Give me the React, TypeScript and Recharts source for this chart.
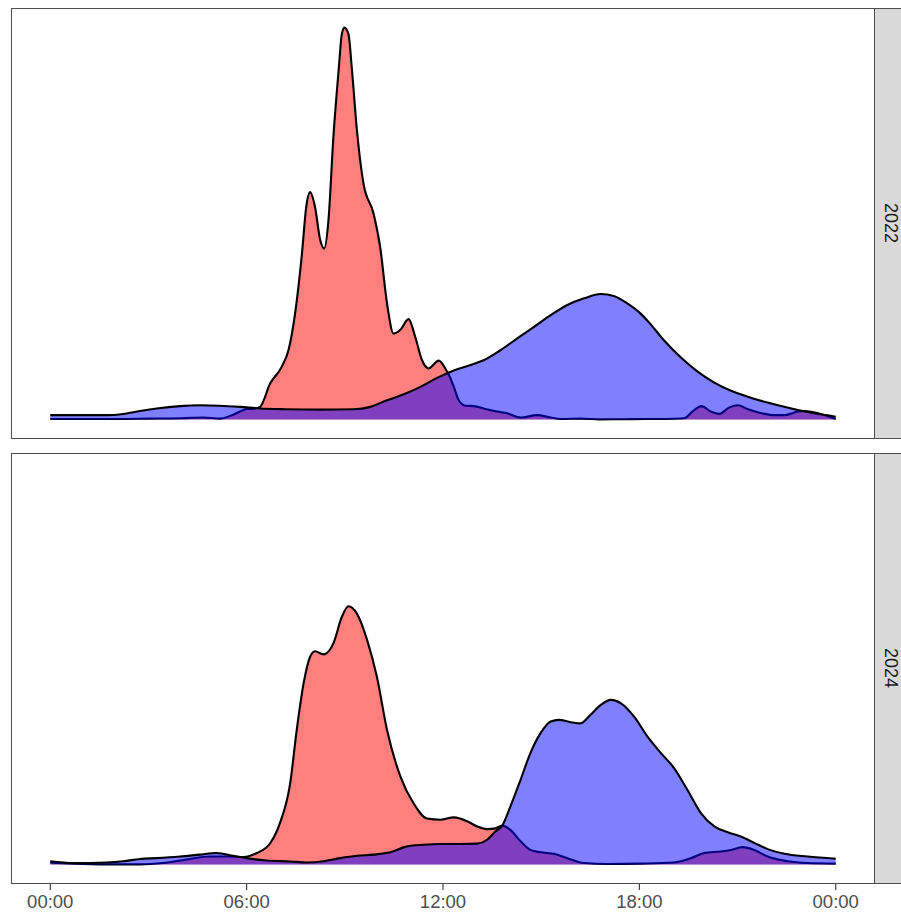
import React from 'react';
import { AreaChart, Area, XAxis, YAxis } from 'recharts';

type Pt = [number, number];

// Density of start times, [hour of day, density (peak of 2022 = 100)]
const start2022: Pt[] = [
  [0, 0.1], [1, 0.1], [2, 0.1], [3, 0.2], [4, 0.3], [4.67, 0.5], [5.2, 0.2], [5.5, 0.9],
  [5.8, 2.0], [6.0, 2.65], [6.2, 2.7], [6.41, 3.2], [6.72, 9.2], [7.07, 13.4], [7.28, 17.7],
  [7.48, 27], [7.69, 42.3], [7.82, 54.2], [7.94, 58], [8.09, 54.2], [8.25, 45.7], [8.37, 43.6],
  [8.5, 50.8], [8.65, 72], [8.81, 89], [8.91, 98.4], [8.99, 100], [9.11, 98.4], [9.22, 89],
  [9.37, 73.8], [9.57, 60.2], [9.88, 52.5], [10.08, 44], [10.29, 29.6], [10.49, 21.9],
  [10.69, 22.8], [10.95, 25.6], [11.15, 21.1], [11.36, 15.1], [11.56, 13], [11.87, 15],
  [12.07, 13], [12.2, 11.0], [12.33, 8.3], [12.48, 4.9], [12.69, 3.5], [12.94, 3.4],
  [13.24, 2.8], [13.65, 2.0], [13.96, 1.55], [14.37, 0.45], [14.88, 1.1], [15.29, 0.5],
  [15.6, 0.1], [16.2, 0.2], [16.8, 0], [17.5, 0.05], [18.2, 0.1], [18.75, 0.1], [19.37, 0.3],
  [19.62, 2.0], [19.9, 3.4], [20.18, 2.0], [20.44, 1.4], [20.74, 3.0], [21.02, 3.6],
  [21.3, 2.65], [21.67, 1.7], [22.13, 1.1], [22.44, 1.1], [22.85, 2.0], [23.05, 2.15],
  [23.46, 1.55], [24, 0.1],
];

// Density of end times, 2022
const end2022: Pt[] = [
  [0, 1.1], [0.7, 1.1], [1.72, 1.1], [2.23, 1.4], [2.74, 2.15], [3.25, 2.8], [3.96, 3.4],
  [4.57, 3.6], [5.18, 3.5], [5.8, 3.2], [6.41, 2.8], [7.2, 2.6], [8.25, 2.5], [9.27, 2.6],
  [9.78, 3.2], [10.29, 4.9], [10.8, 6.4], [11.31, 8.3], [11.82, 10.6], [12.33, 12.5],
  [12.84, 13.9], [13.24, 15.1], [13.76, 17.7], [14.27, 20.7], [14.78, 23.6], [15.29, 26.6],
  [15.8, 29.2], [16.31, 30.9], [16.82, 32], [17.22, 31.5], [17.63, 29.6], [18.04, 27],
  [18.3, 24.7], [18.75, 20.2], [19.27, 15.8], [19.78, 12.2], [20.29, 9.4], [20.8, 7.3],
  [21.31, 5.8], [21.82, 4.5], [22.33, 3.4], [22.84, 2.4], [23.35, 1.55], [24, 0.7],
];

// Density of start times, 2024
const start2024: Pt[] = [
  [0, 0.5], [0.7, 0.2], [1.72, 0], [2.74, 0], [3.45, 0.35], [4.27, 1.4], [4.88, 2.0],
  [5.49, 2.0], [5.9, 1.9], [6.31, 2.9], [6.72, 5.4], [7.02, 10.6], [7.33, 20.7], [7.53, 34.3],
  [7.74, 46.2], [7.94, 53], [8.09, 54.4], [8.35, 53.6], [8.65, 56.4], [8.91, 63.2],
  [9.11, 65.9], [9.37, 64], [9.68, 57.3], [9.98, 47.9], [10.29, 34.3], [10.7, 22.4],
  [11.1, 15.6], [11.51, 11.7], [11.92, 11.4], [12.33, 12.0], [12.74, 11], [13.04, 9.7],
  [13.35, 9.0], [13.6, 9.2], [13.81, 9.9], [14.06, 8.8], [14.37, 5.9], [14.67, 3.7],
  [14.98, 3.1], [15.39, 2.7], [15.8, 1.6], [16.31, 0.35], [17.02, 0.1], [18.04, 0.2],
  [19.06, 0.5], [19.57, 1.6], [19.98, 2.9], [20.49, 3.3], [20.8, 3.7], [21.15, 4.4],
  [21.51, 3.7], [21.92, 2.0], [22.53, 0.8], [23.14, 0.35], [24, 0.2],
];

// Density of end times, 2024
const end2024: Pt[] = [
  [0, 0.8], [0.7, 0.35], [1.72, 0.5], [2.23, 0.8], [2.74, 1.4], [3.25, 1.6], [3.96, 2.0],
  [4.57, 2.5], [5.08, 2.9], [5.59, 2.2], [6.0, 1.6], [6.61, 1.0], [7.33, 0.75], [7.84, 0.5],
  [8.35, 0.8], [8.86, 1.6], [9.37, 2.2], [9.88, 2.5], [10.39, 3.1], [10.9, 4.6], [11.41, 5.0],
  [11.92, 5.2], [12.53, 5.2], [13.04, 5.3], [13.35, 6.3], [13.6, 8.4], [13.81, 9.9],
  [14.06, 14.8], [14.37, 21.6], [14.67, 28.4], [14.98, 33.5], [15.29, 36.5], [15.54, 36.9],
  [15.9, 36.3], [16.2, 36], [16.51, 38.2], [16.82, 40.7], [17.13, 42], [17.44, 41.1],
  [17.84, 37.7], [18.25, 32.6], [18.66, 28.4], [19.06, 24.6], [19.47, 19], [19.88, 13.1],
  [20.29, 9.7], [20.7, 8.2], [21.1, 7.1], [21.51, 5.5], [21.92, 3.9], [22.43, 2.7],
  [23.14, 2.0], [24, 1.45],
];

const years = ['2022', '2024'];
const hourTicks = [0, 6, 12, 18, 24];
const hourTickLabels = ['00:00', '06:00', '12:00', '18:00', '00:00'];

const FONT = '"Liberation Sans", Arial, Helvetica, sans-serif';
const PAGE_W = 901;
const PANEL_LEFT = 11;
const PANEL_W = 864;
const PANEL_H = 431;
const AXIS_H = 30;
const PANEL_TOPS = [8, 453];
const BORDER = '#4d4d4d';
const STRIP_TEXT_SIZE = 18;

const toRows = (pts: Pt[]) => pts.map(([hour, density]) => ({ hour, density }));

interface PanelProps {
  year: string;
  start: Pt[];
  end: Pt[];
  top: number;
  showAxis: boolean;
}

function Panel({ year, start, end, top, showAxis }: PanelProps) {
  const chartH = PANEL_H + (showAxis ? AXIS_H : 0);
  const stripLeft = PANEL_LEFT + PANEL_W - 1;
  return (
    <>
      <div style={{ position: 'absolute', left: PANEL_LEFT, top, width: PANEL_W, height: chartH }}>
        <AreaChart width={PANEL_W} height={chartH} margin={{ top: 0, right: 0, bottom: 0, left: 0 }}>
          <XAxis
            type="number"
            dataKey="hour"
            domain={[-1.2, 25.2]}
            allowDataOverflow
            hide={!showAxis}
            ticks={hourTicks}
            interval={0}
            tickFormatter={(v: number) => hourTickLabels[hourTicks.indexOf(v)]}
            axisLine={false}
            tickLine={{ stroke: '#333333', strokeWidth: 1.1 }}
            tickSize={6}
            tickMargin={5}
            height={AXIS_H}
            tick={{ fill: '#4D4D4D', fontSize: 18.5, fontFamily: FONT }}
          />
          <YAxis type="number" domain={[-5, 105]} allowDataOverflow hide />
          <Area
            data={toRows(start)}
            dataKey="density"
            type="monotone"
            baseValue={0}
            fill="#FF0000"
            fillOpacity={0.5}
            stroke="#000000"
            strokeWidth={2.1}
            dot={false}
            activeDot={false}
            isAnimationActive={false}
          />
          <Area
            data={toRows(end)}
            dataKey="density"
            type="monotone"
            baseValue={0}
            fill="#0000FF"
            fillOpacity={0.5}
            stroke="#000000"
            strokeWidth={2.1}
            dot={false}
            activeDot={false}
            isAnimationActive={false}
          />
        </AreaChart>
      </div>
      {/* panel border */}
      <div
        style={{
          position: 'absolute',
          left: PANEL_LEFT,
          top,
          width: PANEL_W,
          height: PANEL_H,
          boxSizing: 'border-box',
          border: `1px solid ${BORDER}`,
          pointerEvents: 'none',
        }}
      />
      {/* facet strip, running off the right edge of the page */}
      <div
        style={{
          position: 'absolute',
          left: stripLeft,
          top,
          width: PAGE_W - stripLeft,
          height: PANEL_H,
          boxSizing: 'border-box',
          borderTop: `1px solid ${BORDER}`,
          borderBottom: `1px solid ${BORDER}`,
          borderLeft: `1px solid ${BORDER}`,
          background: '#D9D9D9',
        }}
      />
      <div
        style={{
          position: 'absolute',
          left: 882,
          top,
          width: STRIP_TEXT_SIZE,
          height: PANEL_H,
          display: 'flex',
          alignItems: 'center',
          justifyContent: 'center',
        }}
      >
        <span
          style={{
            writingMode: 'vertical-rl',
            fontFamily: FONT,
            fontSize: STRIP_TEXT_SIZE,
            color: '#1A1A1A',
            lineHeight: 1,
          }}
        >
          {year}
        </span>
      </div>
    </>
  );
}

export default function App() {
  const series = [
    { start: start2022, end: end2022 },
    { start: start2024, end: end2024 },
  ];
  return (
    <div
      style={{
        position: 'absolute',
        left: 0,
        top: 0,
        width: PAGE_W,
        height: 913,
        overflow: 'hidden',
        background: '#FFFFFF',
      }}
    >
      {years.map((year, i) => (
        <Panel
          key={year}
          year={year}
          start={series[i].start}
          end={series[i].end}
          top={PANEL_TOPS[i]}
          showAxis={i === years.length - 1}
        />
      ))}
    </div>
  );
}
